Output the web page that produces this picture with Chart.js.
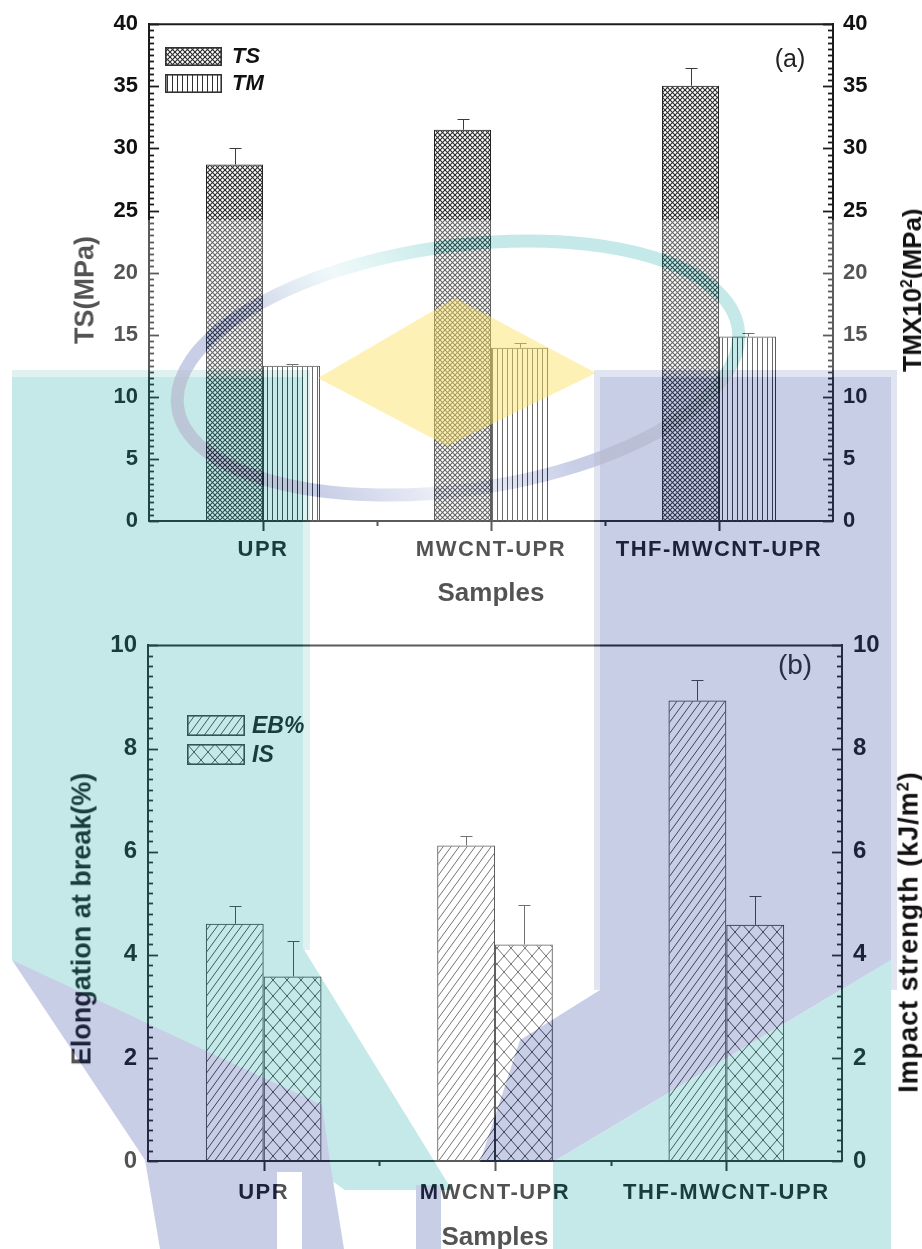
<!DOCTYPE html>
<html>
<head>
<meta charset="utf-8">
<script src="https://cdn.jsdelivr.net/npm/chart.js@4.4.1/dist/chart.umd.min.js"></script>
<style>
  html, body { margin: 0; padding: 0; background: #fff; }
  #wrap { position: relative; width: 922px; height: 1249px; overflow: hidden;
          font-family: "Liberation Sans", Arial, sans-serif; color: #111; }
  canvas.chart { position: absolute; left: 0; }
  .t { position: absolute; white-space: nowrap; line-height: 1; font-weight: bold; }
  .c { transform: translate(-50%, -50%); }
  .r { transform: translate(-50%, -50%) rotate(-90deg); }
  .l { transform: translate(0, -50%); font-style: italic; }
  .sup { position: relative; top: -0.55em; font-size: 0.6em; }
  .sw { position: absolute; }
  #wm { position: absolute; left: 0; top: 0; pointer-events: none; }
</style>
</head>
<body>
<div id="wrap">
  <canvas id="c1" class="chart" width="922" height="620" style="top:0"></canvas>
  <canvas id="c2" class="chart" width="922" height="629" style="top:620px"></canvas>

  <!-- panel (a) texts -->
  <div class="t r" style="left:85px;top:290px;font-size:27px;">TS(MPa)</div>
  <div class="t r" style="left:912px;top:290px;font-size:26px;">TMX10<span class="sup">2</span>(MPa)</div>
  <div class="t c" style="left:491px;top:592px;font-size:26px;">Samples</div>
  <div class="t c" style="left:790px;top:58px;font-size:25px;font-weight:normal;color:#222;">(a)</div>
  <canvas id="lgTS" class="sw" width="57" height="19" style="left:165px;top:47px"></canvas>
  <canvas id="lgTM" class="sw" width="57" height="19" style="left:165px;top:74px"></canvas>
  <div class="t l" style="left:232px;top:56px;font-size:22px;">TS</div>
  <div class="t l" style="left:232px;top:83px;font-size:22px;">TM</div>

  <!-- panel (b) texts -->
  <div class="t r" style="left:82px;top:919px;font-size:27px;">Elongation at break(%)</div>
  <div class="t r" style="left:909px;top:932px;font-size:27px;letter-spacing:1px;">Impact strength (kJ/m<span class="sup">2</span>)</div>
  <div class="t c" style="left:495px;top:1236px;font-size:26px;">Samples</div>
  <div class="t c" style="left:795px;top:665px;font-size:28px;font-weight:normal;color:#222;">(b)</div>
  <canvas id="lgEB" class="sw" width="58" height="21" style="left:187px;top:715px"></canvas>
  <canvas id="lgIS" class="sw" width="58" height="21" style="left:187px;top:744px"></canvas>
  <div class="t l" style="left:252px;top:725px;font-size:23px;">EB%</div>
  <div class="t l" style="left:252px;top:754px;font-size:23px;">IS</div>

  <!-- faint institutional watermark lying over the figure -->
  <svg id="wm" width="922" height="1249" viewBox="0 0 922 1249">
    <defs>
      <linearGradient id="ringGrad" gradientUnits="userSpaceOnUse" x1="400" y1="440" x2="500" y2="250">
        <stop offset="0" stop-color="rgb(59,80,166)"/>
        <stop offset="0.4" stop-color="rgb(59,80,166)"/>
        <stop offset="0.72" stop-color="rgb(44,176,173)"/>
        <stop offset="1" stop-color="rgb(44,176,173)"/>
      </linearGradient>
      <linearGradient id="ringFade" gradientUnits="userSpaceOnUse" x1="250" y1="330" x2="470" y2="245">
        <stop offset="0" stop-color="#fff" stop-opacity="0"/>
        <stop offset="0.5" stop-color="#fff" stop-opacity="0.75"/>
        <stop offset="1" stop-color="#fff" stop-opacity="0"/>
      </linearGradient>
    </defs>
    <g opacity="0.28">
      <rect x="0" y="220" width="897" height="1029" fill="#fff"/>
      <rect x="12" y="370" width="298" height="580" fill="rgb(137,209,205)"/>
      <polygon points="12,377 303,377 303,948 452,1190 345,1190 12,960" fill="rgb(44,176,173)"/>
      <rect x="594" y="370" width="303" height="620" fill="rgb(148,159,205)"/>
      <polygon points="600,377 891,377 891,960 553,1162 480,1162 520,1040 600,990" fill="rgb(59,80,166)"/>
      <polygon points="553,1162 891,960 891,1249 553,1249" fill="rgb(44,176,173)"/>
      <polygon points="12,960 322,1105 330,1162 344,1249 160,1249 145,1160" fill="rgb(59,80,166)"/>
      <rect x="277" y="1172" width="25" height="77" fill="#fff"/>
      <rect x="416" y="1185" width="25" height="64" fill="rgb(59,80,166)"/>
      <ellipse cx="458" cy="368" rx="283" ry="122" transform="rotate(-8 458 368)" fill="none"
               stroke="url(#ringGrad)" stroke-width="13" style="mix-blend-mode:multiply"/>
      <ellipse cx="458" cy="368" rx="283" ry="122" transform="rotate(-8 458 368)" fill="none"
               stroke="url(#ringFade)" stroke-width="15"/>
    </g>
    <polygon points="455,298 596,373 447,446 318,378" fill="rgb(251,224,91)" opacity="0.45"/>
  </svg>
</div>

<script>
// ---- data ----
const categories = ['UPR', 'MWCNT-UPR', 'THF-MWCNT-UPR'];

const tsValues = [28.7, 31.5, 35.05];   // tensile strength, MPa
const tsErrors = [1.3, 0.9, 1.45];
const tmValues = [12.5, 13.95, 14.85];  // tensile modulus, x10^2 MPa
const tmErrors = [0.18, 0.35, 0.28];

const ebValues = [4.6, 6.12, 8.93];     // elongation at break, %
const ebErrors = [0.35, 0.18, 0.4];
const isValues = [3.58, 4.2, 4.58];     // impact strength, kJ/m^2
const isErrors = [0.69, 0.77, 0.56];

const tensileTicks = [0, 5, 10, 15, 20, 25, 30, 35, 40];
const elongTicks = [0, 2, 4, 6, 8, 10];

// ---- styling helpers ----
const INK = '#1c1c1c';
const FONT = '"Liberation Sans", Arial, sans-serif';
Chart.defaults.font.family = FONT;
Chart.defaults.color = '#111';

function hatch(kind) {
  const sizes = { fine: [5, 5], vert: [5, 5], diag: [8, 11], cross: [14, 16] };
  const [w, h] = sizes[kind];
  const c = document.createElement('canvas');
  c.width = w; c.height = h;
  const g = c.getContext('2d');
  g.strokeStyle = '#2a2a2a';
  const seg = (x1, y1, x2, y2) => {
    for (const dx of [-w, 0, w]) for (const dy of [-h, 0, h]) {
      g.beginPath(); g.moveTo(x1 + dx, y1 + dy); g.lineTo(x2 + dx, y2 + dy); g.stroke();
    }
  };
  if (kind === 'vert') {
    g.fillStyle = '#333'; g.fillRect(2, 0, 1, h);
  } else if (kind === 'fine') {
    g.lineWidth = 1.1; seg(0, 0, w, h); seg(w, 0, 0, h);
  } else if (kind === 'diag') {
    g.lineWidth = 0.9; seg(0, h, w, 0);
  } else {
    g.lineWidth = 0.9; seg(0, 0, w, h); seg(w, 0, 0, h);
  }
  return g.createPattern(c, 'repeat');
}

const pat = { fine: hatch('fine'), vert: hatch('vert'), diag: hatch('diag'), cross: hatch('cross') };

function swatch(id, p) {
  const cv = document.getElementById(id);
  const g = cv.getContext('2d');
  g.fillStyle = p; g.fillRect(0, 0, cv.width, cv.height);
  g.strokeStyle = '#333'; g.lineWidth = 1.6;
  g.strokeRect(0.8, 0.8, cv.width - 1.6, cv.height - 1.6);
}
swatch('lgTS', pat.fine); swatch('lgTM', pat.vert);
swatch('lgEB', pat.diag); swatch('lgIS', pat.cross);

// upward error bars, placed with the bar's own scale
const errorBars = {
  id: 'errorBars',
  afterDatasetsDraw(chart) {
    const ctx = chart.ctx;
    ctx.save();
    ctx.strokeStyle = '#3a3a3a';
    ctx.lineWidth = 1;
    chart.data.datasets.forEach((ds, i) => {
      const meta = chart.getDatasetMeta(i);
      const ys = chart.scales[ds.yAxisID];
      meta.data.forEach((bar, j) => {
        const top = Math.round(ys.getPixelForValue(ds.data[j] + ds.errors[j])) + 0.5;
        const x = Math.round(bar.x) + 0.5;
        ctx.beginPath();
        ctx.moveTo(x, bar.y); ctx.lineTo(x, top);
        ctx.moveTo(x - 6, top); ctx.lineTo(x + 6, top);
        ctx.stroke();
      });
    });
    ctx.restore();
  }
};

// frame on top, inward y ticks (major + minor), outward x ticks
const axisDecor = {
  id: 'axisDecor',
  afterDraw(chart, args, opts) {
    const ctx = chart.ctx, a = chart.chartArea;
    ctx.save();
    ctx.strokeStyle = INK;
    ctx.lineWidth = 2;
    ctx.beginPath(); ctx.moveTo(a.left - 1, a.top); ctx.lineTo(a.right + 1, a.top); ctx.stroke();
    ctx.lineWidth = 1.8;
    for (const id of ['y', 'y2']) {
      const s = chart.scales[id];
      const n = Math.round((s.max - s.min) / opts.minor);
      const x0 = s.position === 'left' ? a.left : a.right;
      const dir = s.position === 'left' ? 1 : -1;
      for (let k = 0; k <= n; k++) {
        const v = s.min + k * opts.minor;
        const major = opts.major.some(m => Math.abs(m - v) < 1e-6);
        const y = Math.round(s.getPixelForValue(v)) + 0.5;
        ctx.beginPath(); ctx.moveTo(x0, y); ctx.lineTo(x0 + dir * (major ? 10 : 5), y); ctx.stroke();
      }
    }
    const xs = chart.scales.x;
    const n = xs.ticks.length;
    ctx.lineWidth = 2;
    for (let i = 0; i < n; i++) {
      const px = Math.round(xs.getPixelForTick(i)) + 0.5;
      ctx.beginPath(); ctx.moveTo(px, a.bottom); ctx.lineTo(px, a.bottom + 10); ctx.stroke();
      if (i < n - 1) {
        const mid = Math.round((xs.getPixelForTick(i) + xs.getPixelForTick(i + 1)) / 2) + 0.5;
        ctx.beginPath(); ctx.moveTo(mid, a.bottom); ctx.lineTo(mid, a.bottom + 5); ctx.stroke();
      }
    }
    ctx.restore();
  }
};

function yScale(pos, max, ticks, width, size, pad) {
  return {
    position: pos, min: 0, max: max,
    afterBuildTicks: s => { s.ticks = ticks.map(v => ({ value: v })); },
    grid: { display: false, drawTicks: false },
    border: { display: true, width: 2, color: INK },
    ticks: { font: { size: size, weight: 'bold' }, color: '#111', padding: pad },
    afterFit: s => { s.width = width; }
  };
}

// category labels are set slightly tracked out
function spacedLabels(s) {
  if (s._spaced) return;
  const base = s.drawLabels;
  s.drawLabels = function (area) {
    const c = this.ctx;
    c.save();
    c.letterSpacing = '1.5px';
    base.call(this, area);
    c.restore();
  };
  s._spaced = true;
}

function xScale(height, pad) {
  return {
    position: 'bottom',
    grid: { display: false, drawTicks: false },
    border: { display: true, width: 2, color: INK },
    ticks: { font: { size: 22, weight: 'bold' }, color: '#111', padding: pad,
             maxRotation: 0, autoSkip: false },
    afterFit: s => { s.height = height; },
    afterUpdate: spacedLabels
  };
}

function barSet(label, data, errors, axis, fill) {
  return { label, data, errors, yAxisID: axis, backgroundColor: fill,
           borderColor: '#222', borderWidth: 1,
           categoryPercentage: 0.5, barPercentage: 1.0 };
}

const common = {
  responsive: false, animation: false, devicePixelRatio: 1,
  plugins: { legend: { display: false }, tooltip: { enabled: false } }
};

// (a) tensile strength and tensile modulus
new Chart(document.getElementById('c1'), {
  type: 'bar',
  data: {
    labels: categories,
    datasets: [
      barSet('TS', tsValues, tsErrors, 'y', pat.fine),
      barSet('TM', tmValues, tmErrors, 'y2', pat.vert)
    ]
  },
  options: Object.assign({}, common, {
    layout: { padding: { top: 21, left: 0, right: 0, bottom: 0 } },
    plugins: Object.assign({}, common.plugins, { axisDecor: { minor: 0.5, major: tensileTicks } }),
    scales: {
      x: xScale(99, 16),
      y: yScale('left', 40, tensileTicks, 149, 22, 11),
      y2: yScale('right', 40, tensileTicks, 89, 22, 10)
    }
  }),
  plugins: [errorBars, axisDecor]
});

// (b) elongation at break and impact strength
new Chart(document.getElementById('c2'), {
  type: 'bar',
  data: {
    labels: categories,
    datasets: [
      barSet('EB%', ebValues, ebErrors, 'y', pat.diag),
      barSet('IS', isValues, isErrors, 'y2', pat.cross)
    ]
  },
  options: Object.assign({}, common, {
    layout: { padding: { top: 22, left: 0, right: 0, bottom: 0 } },
    plugins: Object.assign({}, common.plugins, { axisDecor: { minor: 0.2, major: elongTicks } }),
    scales: {
      x: xScale(88, 19),
      y: yScale('left', 10, elongTicks, 148, 24, 11),
      y2: yScale('right', 10, elongTicks, 80, 24, 11)
    }
  }),
  plugins: [errorBars, axisDecor]
});
</script>
</body>
</html>
